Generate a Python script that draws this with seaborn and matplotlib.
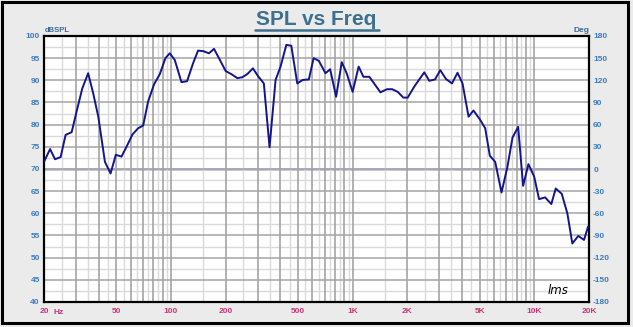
import numpy as np
import pandas as pd
import seaborn as sns
import matplotlib.pyplot as plt
from matplotlib.patches import Rectangle
from matplotlib.lines import Line2D
from matplotlib.ticker import FixedLocator, NullFormatter

# Measured SPL response (Hz, dB SPL)
freq_hz = [20.0, 21.6, 23.0, 24.7, 26.3, 28.4, 30.2, 32.5, 35.0, 37.3, 39.8,
           43.3, 46.5, 49.7, 53.4, 56.9, 61.4, 66.0, 70.3, 74.8, 80.7, 86.8,
           93.2, 98.5, 104.9, 114.2, 122.6, 132.2, 140.9, 150.0, 161.8, 172.5,
           185.4, 200, 214.9, 231.9, 247, 263, 282.5, 300.8, 324.5, 348.8,
           376.5, 401, 431.5, 459.5, 495.6, 532, 574, 609.5, 651.4, 708.5,
           752, 811, 871, 927, 1000, 1079, 1146, 1236, 1422, 1547, 1649, 1771,
           1901, 2009, 2185, 2479, 2642, 2841, 3037, 3264, 3523, 3778, 4026,
           4345, 4625, 5014, 5366, 5690, 6091, 6597, 7113, 7586, 8148, 8676,
           9280, 9980, 10620, 11460, 12410, 13120, 14160, 15200, 16190, 17460,
           18780, 19760]
spl_db = [71.6, 74.5, 72.2, 72.7, 77.7, 78.3, 82.9, 88.2, 91.6, 87.1, 81.8,
          71.6, 69.0, 73.2, 72.8, 75.0, 77.8, 79.2, 79.8, 85.2, 89.1, 91.4,
          95.0, 96.1, 94.6, 89.6, 89.8, 93.8, 96.7, 96.6, 96.1, 97.1,
          94.7, 92.1, 91.4, 90.5, 90.7, 91.4, 92.7, 91.0, 89.3, 74.9,
          90.1, 93.1, 98.0, 97.8, 89.3, 90.1, 90.2, 95.0, 94.4, 91.6,
          92.5, 86.3, 94.1, 91.6, 87.4, 93.1, 90.8, 90.8, 87.3, 88.0, 88.0, 87.4,
          86.1, 86.1, 88.6, 91.8, 89.9, 90.2, 92.3, 90.3, 89.3, 91.7, 89.3,
          81.8, 83.2, 81.2, 79.2, 73.0, 71.6, 64.7, 70.5, 77.1, 79.5, 66.2,
          71.1, 68.3, 63.2, 63.6, 62.1, 65.6, 64.4, 60.0, 53.2, 54.9,
          54.0, 57.0]

# Axis labelling
x_label_freqs = [20, 50, 100, 200, 500, 1000, 2000, 5000, 10000, 20000]
x_label_text = ["20", "50", "100", "200", "500", "1K", "2K", "5K", "10K", "20K"]
spl_ticks = list(range(40, 101, 5))
phase_ticks = list(range(-180, 181, 30))

df = pd.DataFrame({"freq": freq_hz, "spl": spl_db})

sns.set_theme(style="white")
plt.rcParams["font.family"] = ["Liberation Sans", "DejaVu Sans"]

W, H = 633, 327
fig = plt.figure(figsize=(W / 100, H / 100), dpi=100)
fig.patch.set_facecolor("#ebebeb")

# outer frame
fig.patches.append(Rectangle((2 / W, 4 / H), 626 / W, 321 / H, transform=fig.transFigure,
                             fill=False, edgecolor="black", linewidth=2.2, zorder=0))

ax = fig.add_axes([44 / W, 25 / H, 545 / W, 266 / H])
ax.set_facecolor("white")
ax.set_xscale("log")
ax.set_xlim(20, 20000)
ax.set_ylim(40, 100)

# grid: dark at 1..9 x decade, light at the half steps
dark_x = [m * 10 ** d for d in range(1, 5) for m in range(1, 10) if 20 <= m * 10 ** d <= 20000]
light_x = [(m + 0.5) * 10 ** d for d in range(1, 4) for m in range(1, 10)
           if 20 < (m + 0.5) * 10 ** d < 20000]
for xv in light_x:
    ax.axvline(xv, color="#dadada", lw=1.0, zorder=0.5)
for xv in dark_x:
    ax.axvline(xv, color="#9c9c9c", lw=1.1, zorder=0.6)
for yv in np.arange(42.5, 100, 5):
    ax.axhline(yv, color="#dadada", lw=1.0, zorder=0.5)
for yv in spl_ticks:
    ax.axhline(yv, color="#a4a4a4", lw=1.1, zorder=0.6)

ax.xaxis.set_major_locator(FixedLocator(x_label_freqs))
ax.set_xticklabels(x_label_text)
ax.xaxis.set_minor_locator(FixedLocator([]))
ax.xaxis.set_minor_formatter(NullFormatter())
ax.set_yticks(spl_ticks)
ax.set_yticklabels([str(v) for v in spl_ticks])

ax.tick_params(axis="x", length=0, pad=4, labelsize=6, labelcolor="#c8357a")
ax.tick_params(axis="y", length=0, pad=3, labelsize=6, labelcolor="#3a7cc0")
for lab in ax.get_xticklabels() + ax.get_yticklabels():
    lab.set_fontweight("bold")

for s in ax.spines.values():
    s.set_color("black")
    s.set_linewidth(1.6)

ax2 = ax.twinx()
ax2.set_ylim(-180, 180)
ax2.set_yticks(phase_ticks)
ax2.set_yticklabels([str(v) for v in phase_ticks])
ax2.tick_params(axis="y", length=0, pad=3, labelsize=6, labelcolor="#3a7cc0")
for lab in ax2.get_yticklabels():
    lab.set_fontweight("bold")
ax2.axhline(0, color="#b4b4dc", lw=1.8, zorder=1)
for s in ax2.spines.values():
    s.set_visible(False)
ax2.grid(False)
ax.set_zorder(ax2.get_zorder() + 1)
ax.patch.set_visible(False)
ax2.patch.set_facecolor("white")
ax2.patch.set_visible(True)

sns.lineplot(data=df, x="freq", y="spl", ax=ax, color="#14148c", lw=1.4,
             estimator=None, sort=False, zorder=3)
ax.set_xlabel("")
ax.set_ylabel("")

# Hz unit next to the first label
ax.text(15 / 545, -10 / 266, "Hz", transform=ax.transAxes, ha="center", va="center",
        fontsize=6, fontweight="bold", color="#c8357a")

fig.text(45 / W, 1 - 31 / H, "dBSPL", ha="left", va="center", fontsize=5.5,
         fontweight="bold", color="#3a6a95")
fig.text(590 / W, 1 - 30 / H, "Deg", ha="right", va="center", fontsize=6,
         fontweight="bold", color="#3a6a95")

fig.text(0.5, 1 - 25 / H, "SPL vs Freq", ha="center", va="baseline", fontsize=15,
         fontweight="bold", color="#3d6f8e")
fig.lines.append(Line2D([255 / W, 379 / W], [1 - 29.5 / H, 1 - 29.5 / H],
                        transform=fig.transFigure, color="#3d6f8e", lw=1.8))

# signature
ax.text((548 - 44) / 545, 11 / 266, "lms", transform=ax.transAxes, ha="left",
        va="center", fontsize=8.5, fontstyle="italic", color="black",
        family=["DejaVu Sans"])

fig.savefig("out.png", dpi=100, facecolor=fig.get_facecolor())
